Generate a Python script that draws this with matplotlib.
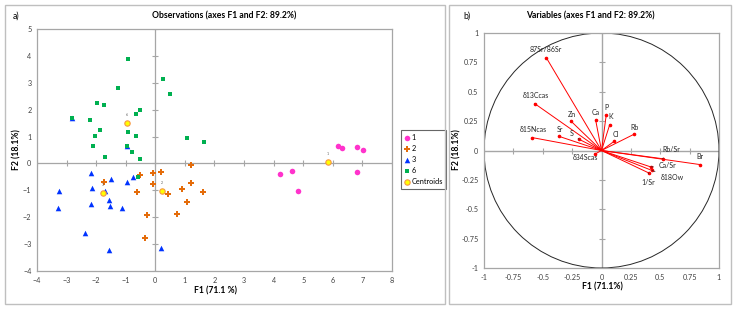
import matplotlib
matplotlib.use("Agg")
import matplotlib.pyplot as plt
from matplotlib.patches import Rectangle, Circle
import numpy as np

plt.rcParams['font.family'] = ['Lato', 'DejaVu Sans']

# ---------------- data: observations ----------------
g1_x = [6.17, 6.32, 6.80, 7.03, 4.21, 4.62, 4.83, 6.82]
g1_y = [0.65, 0.58, 0.62, 0.50, -0.39, -0.28, -1.01, -0.33]

g2_x = [1.22, 0.19, -0.07, -0.51, -1.73, -0.07, 1.19, -0.61, 0.42, 0.91, 1.62, 1.06, -0.28, 0.74, -0.36]
g2_y = [-0.06, -0.30, -0.35, -0.43, -0.68, -0.75, -0.71, -1.05, -1.12, -0.96, -1.06, -1.42, -1.90, -1.88, -2.76]

g3_x = [-2.17, -1.51, -0.75, -0.96, -3.25, -2.13, -1.70, -1.55, -2.19, -1.54, -3.28, -1.11, -2.39, -1.55, 0.19, -2.83, -0.96]
g3_y = [-0.34, -0.56, -0.51, -0.70, -1.02, -0.90, -1.02, -1.36, -1.52, -1.58, -1.64, -1.67, -2.60, -3.22, -3.13, 1.70, 0.65]

g6_x = [-0.92, 0.27, 0.50, -1.26, -1.96, -1.75, -0.52, -0.64, -2.83, -2.21, -1.86, -0.92, -2.05, -0.64,
        1.06, 1.63, -2.12, -0.96, -0.79, -1.71, -0.53, -0.60]
g6_y = [3.87, 3.14, 2.58, 2.82, 2.26, 2.19, 1.99, 1.84, 1.70, 1.62, 1.25, 1.17, 1.02, 1.02,
        0.96, 0.81, 0.64, 0.65, 0.42, 0.25, 0.17, -0.51]

cent_labels = ['1', '2', '3', '6']
cent_x = [5.83, 0.23, -1.78, -0.96]
cent_y = [0.07, -1.01, -1.11, 1.49]

group_names = ['1', '2', '3', '6', 'Centroids']

# ---------------- data: variables ----------------
var_names = ['87Sr/86Sr', 'δ13Ccas', 'δ15Ncas', 'Zn', 'Sr', 'S', 'Ca', 'P', 'K', 'Cl', 'Rb',
             'δ34Scas', 'Rb/Sr', 'Br', 'Ca/Sr', 'δ18Ow', '1/Sr']
var_x = [-0.47, -0.57, -0.59, -0.26, -0.36, -0.19, -0.05, 0.04, 0.07, 0.11, 0.28,
         -0.055, 0.52, 0.84, 0.42, 0.43, 0.40]
var_y = [0.79, 0.40, 0.11, 0.25, 0.12, 0.095, 0.26, 0.30, 0.22, 0.08, 0.14,
         -0.03, -0.07, -0.12, -0.14, -0.17, -0.19]

# label layout (pixel offsets, leader line flag)
label_offsets = {
    '87Sr/86Sr': (0, 8, False), 'δ13Ccas': (1, 8, False), 'δ15Ncas': (1, 8, False),
    'Zn': (1, 7, False), 'Sr': (1, 7, False), 'S': (-8, 6, True), 'Ca': (0, 7, False),
    'P': (0, 8, False), 'K': (1, 8, False), 'Cl': (1, 7, False), 'Rb': (0, 7, False),
    'δ34Scas': (-10, -3, False), 'Rb/Sr': (9, 9, True), 'Br': (0, 8, False),
    'Ca/Sr': (17, 1, True), 'δ18Ow': (20, -7, True), '1/Sr': (0, -10, True),
}

W, H = 735, 309
fig = plt.figure(figsize=(W / 100, H / 100), dpi=100)

def fx(px):
    return px / W

def fy(py):
    return 1 - py / H

box_col = '#BFBFBF'
# outer boxes
fig.add_artist(Rectangle((fx(5), fy(304)), fx(445) - fx(5), fy(5) - fy(304), transform=fig.transFigure,
                         fill=False, edgecolor=box_col, lw=1.0))
fig.add_artist(Rectangle((fx(449), fy(304)), fx(731) - fx(449), fy(5) - fy(304), transform=fig.transFigure,
                         fill=False, edgecolor=box_col, lw=1.0))

grey = '#A6A6A6'
tfs = 5.2

# ---------------- panel a ----------------
ax = fig.add_axes([fx(37), fy(271), fx(392) - fx(37), fy(29) - fy(271)])
ax.set_xlim(-4, 8)
ax.set_ylim(-4, 5)
xt = np.arange(-4, 9, 1)
yt = np.arange(-4, 6, 1)
ax.set_xticks(xt)
ax.set_yticks(yt)
ax.tick_params(length=0, labelsize=tfs, pad=4, colors='#404040')
for s in ax.spines.values():
    s.set_color(grey)
    s.set_linewidth(0.9)
ax.axhline(0, color=grey, lw=0.9, zorder=1)
ax.axvline(0, color=grey, lw=0.9, zorder=1)
ax.plot(xt, np.zeros_like(xt), ls='none', marker='|', ms=4, mew=0.8, color=grey, zorder=1)
ax.plot(np.zeros_like(yt), yt, ls='none', marker='_', ms=4, mew=0.8, color=grey, zorder=1)

ax.scatter(g1_x, g1_y, marker='o', s=16, color='#FF33CC', linewidths=0, zorder=3, label=group_names[0])
ax.scatter(g2_x, g2_y, marker='P', s=14, color='#E46C0A', linewidths=0, zorder=3, label=group_names[1])
ax.scatter(g3_x, g3_y, marker='^', s=16, color='#0033FF', linewidths=0, zorder=3, label=group_names[2])
ax.scatter(g6_x, g6_y, marker='s', s=12, color='#00B050', linewidths=0, zorder=4, label=group_names[3])
ax.scatter(cent_x, cent_y, marker='o', s=15, color='#FFFF00', edgecolors='#F79646', linewidths=0.8,
           zorder=5, label=group_names[4])
for lab, cx, cy in zip(cent_labels, cent_x, cent_y):
    ax.annotate(lab, (cx, cy), xytext=(0, 6), textcoords='offset pixels', ha='center', va='bottom',
                fontsize=2.5, color='#595959', zorder=6)

leg = ax.legend(loc='upper left', bbox_to_anchor=(fx(401), fy(130)), bbox_transform=fig.transFigure,
                fontsize=5.3, frameon=True, fancybox=False, borderpad=0.5, labelspacing=0.55,
                handlelength=0.6, handletextpad=0.3, borderaxespad=0, scatterpoints=1)
leg.get_frame().set_edgecolor('#404040')
leg.get_frame().set_linewidth(0.8)

fig.text(fx(224), fy(16), 'Observations (axes F1 and F2: 89.2%)', ha='center', va='center',
         fontsize=6.2, fontweight='bold')
fig.text(fx(13), fy(16), 'a)', ha='left', va='center', fontsize=6.2)
fig.text(fx(215), fy(291), 'F1 (71.1 %)', ha='center', va='center', fontsize=6.2, fontweight='bold')
fig.text(fx(17), fy(150), 'F2 (18.1%)', ha='center', va='center', fontsize=6.2, fontweight='bold',
         rotation=90)

# ---------------- panel b ----------------
bx = fig.add_axes([fx(484), fy(268), fx(719) - fx(484), fy(33) - fy(268)])
bx.set_xlim(-1, 1)
bx.set_ylim(-1, 1)
bt = np.arange(-1, 1.01, 0.25)
btl = ['-1', '-0.75', '-0.5', '-0.25', '0', '0.25', '0.5', '0.75', '1']
bx.set_xticks(bt)
bx.set_xticklabels(btl)
bx.set_yticks(bt)
bx.set_yticklabels(btl)
bx.tick_params(length=0, labelsize=tfs, pad=4, colors='#404040')
for s in bx.spines.values():
    s.set_color(grey)
    s.set_linewidth(0.9)
bx.axhline(0, color=grey, lw=1.0, zorder=1)
bx.axvline(0, color=grey, lw=1.0, zorder=1)
bx.plot(bt, np.zeros_like(bt), ls='none', marker='|', ms=4, mew=0.8, color=grey, zorder=1)
bx.plot(np.zeros_like(bt), bt, ls='none', marker='_', ms=4, mew=0.8, color=grey, zorder=1)
bx.add_patch(Circle((0, 0), 1, fill=False, edgecolor='#262626', lw=0.7, zorder=2))

for name, vx, vy in zip(var_names, var_x, var_y):
    bx.plot([0, vx], [0, vy], color='#FF0000', lw=0.7, zorder=3)
    bx.plot([vx], [vy], marker='o', ms=1.6, color='#FF0000', zorder=3)
    ox, oy, lead = label_offsets[name]
    if lead:
        bx.annotate(name, (vx, vy), xytext=(ox, oy), textcoords='offset pixels', ha='center',
                    va='center', fontsize=5, color='#262626', zorder=4,
                    arrowprops=dict(arrowstyle='-', color='#262626', lw=0.5, shrinkA=2, shrinkB=0))
    else:
        bx.annotate(name, (vx, vy), xytext=(ox, oy), textcoords='offset pixels', ha='center',
                    va='center', fontsize=5, color='#262626', zorder=4)

fig.text(fx(590), fy(16), 'Variables (axes F1 and F2: 89.2%)', ha='center', va='center',
         fontsize=6.2, fontweight='bold')
fig.text(fx(463), fy(16), 'b)', ha='left', va='center', fontsize=6.2)
fig.text(fx(602), fy(287), 'F1 (71.1%)', ha='center', va='center', fontsize=6.2, fontweight='bold')
fig.text(fx(457), fy(150), 'F2 (18.1%)', ha='center', va='center', fontsize=6.2, fontweight='bold',
         rotation=90)

fig.savefig('out.png', dpi=100)
